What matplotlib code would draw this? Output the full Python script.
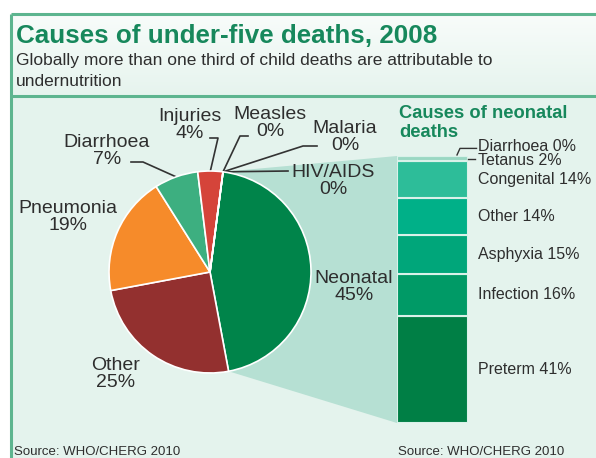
import numpy as np
import matplotlib.pyplot as plt
from matplotlib.patches import Polygon, Rectangle
from matplotlib.colors import LinearSegmentedColormap
from matplotlib.transforms import blended_transform_factory

plt.rcParams['font.family'] = ['Liberation Sans', 'DejaVu Sans']

# under-five deaths by cause (%)
causes = ['Neonatal', 'Other', 'Pneumonia', 'Diarrhoea', 'Injuries', 'Measles', 'Malaria', 'HIV/AIDS']
shares = [45, 25, 19, 7, 4, 0, 0, 0]
cause_colors = ['#00844a', '#93302f', '#f68b2a', '#3daf80', '#d5443a', '#ffffff', '#ffffff', '#ffffff']

# neonatal deaths by cause (%), stacked from the bottom
neo_causes = ['Preterm', 'Infection', 'Asphyxia', 'Other', 'Congenital', 'Tetanus', 'Diarrhoea']
neo_shares = [41, 16, 15, 14, 14, 2, 0]
neo_colors = ['#007f45', '#009a66', '#00a67a', '#00b088', '#2dbd99', '#9ad7c3', '#9ad7c3']

# layout in pixels
W, H = 596, 458
CX, CY, R = 210, 272, 101
START = 82.6
BX0, BX1, BY0, BY1 = 397, 468, 156, 423
TXT = '#2e2e2e'
GREEN = '#17885c'

# label centre and leader elbow for the pie labels
label_pos = {
    'Neonatal': (354, 287, None),
    'Other': (116, 374, None),
    'Pneumonia': (68, 217, None),
    'Diarrhoea': (107, 151, [(131, 162), (143, 162)]),
    'Injuries': (190, 125, [(210, 138), (218, 138)]),
    'Measles': (270, 123, [(248, 136), (240, 136)]),
    'Malaria': (345, 137, [(317, 146), (303, 146)]),
    'HIV/AIDS': (333, 181, [(288, 171)]),
}


def box(x0, y0, x1, y1):
    return [x0 / W, 1 - y1 / H, (x1 - x0) / W, (y1 - y0) / H]


def edge_point(a):
    a = np.radians(a)
    return CX + R * np.cos(a), CY - R * np.sin(a)


fig = plt.figure(figsize=(W / 100, H / 100), dpi=100)
bg = fig.add_axes([0, 0, 1, 1])
bg.set_xlim(0, W)
bg.set_ylim(H, 0)
bg.axis('off')

# panel background and frame
bg.add_patch(Rectangle((11, 96), W - 11, H - 96, color='#e4f3ed', lw=0))
grad = np.linspace(0, 1, 64)[:, None]
bg.imshow(grad, cmap=LinearSegmentedColormap.from_list('h', ['#f8fcfa', '#e6f4ee']),
          extent=(11, W, 96, 14), origin='upper', aspect='auto')
for xs, ys in [([11, 11], [14, H]), ([11, W], [14, 14]), ([11, W], [96, 96])]:
    bg.plot(xs, ys, color='#5db58f', lw=2.2, solid_capstyle='butt')

bg.text(16, 43, 'Causes of under-five deaths, 2008', fontsize=18.7, fontweight='bold',
        color=GREEN, va='baseline')
bg.text(16, 65, 'Globally more than one third of child deaths are attributable to',
        fontsize=12.5, color=TXT, va='baseline')
bg.text(16, 86, 'undernutrition', fontsize=12.5, color=TXT, va='baseline')

# zoom band from the neonatal slice to the bar
cum = np.concatenate([[0], np.cumsum(shares)])
p0 = edge_point(START)
p1 = edge_point(START - 3.6 * shares[0])
bg.add_patch(Polygon([(CX, CY), p0, (BX0, BY0), (BX0, BY1), p1], closed=True,
                     color='#b6e0d3', lw=0))

# pie
pax = fig.add_axes(box(CX - R, CY - R, CX + R, CY + R))
pax.pie(shares, colors=cause_colors, startangle=START, counterclock=False,
        wedgeprops=dict(edgecolor='white', linewidth=1.2))
pax.set_xlim(-1, 1)
pax.set_ylim(-1, 1)
pax.axis('off')

for i, (name, val) in enumerate(zip(causes, shares)):
    x, y, elbow = label_pos[name]
    bg.text(x, y, f'{name}\n{val}%', fontsize=14, color=TXT, ha='center', va='center',
            linespacing=0.98, zorder=5)
    if elbow:
        mid = START - 3.6 * (cum[i] + val / 2)
        pts = elbow + [edge_point(mid)]
        bg.plot([p[0] for p in pts], [p[1] for p in pts], color='#333333', lw=1.2, zorder=5)

# stacked bar of neonatal causes
bax = fig.add_axes(box(BX0, BY0, BX1, BY1))
bottoms = np.concatenate([[0], np.cumsum(neo_shares)[:-1]])
bax.bar(0, neo_shares, bottom=bottoms, width=1, color=neo_colors, edgecolor='#d9f1e9', linewidth=1.5)
bax.set_xlim(-0.5, 0.5)
top = sum(neo_shares)
bax.set_ylim(0, top)
bax.axis('off')

tr = blended_transform_factory(bax.transAxes, bax.transData)
for name, val, b in zip(neo_causes, neo_shares, bottoms):
    if val > 0:
        y = b + val / 2
        if val < 5:
            bax.plot([1.0, 1.1], [y, y], transform=tr, color='#333333', lw=1, clip_on=False)
            y -= 0.9
        bax.text(1.14, y, f'{name} {val}%', transform=tr, fontsize=11.5, color=TXT,
                 va='center', clip_on=False)
    else:
        bax.text(1.14, top + 3.6, f'{name} {val}%', transform=tr, fontsize=11.5, color=TXT,
                 va='center', clip_on=False)
        bax.plot([0.845, 0.887, 1.12], [top + 0.4, top + 2.9, top + 2.9], transform=tr,
                 color='#333333', lw=1, clip_on=False)

bg.text(399, 118, 'Causes of neonatal', fontsize=13.2, fontweight='bold', color=GREEN,
        va='baseline')
bg.text(399, 137, 'deaths', fontsize=13.2, fontweight='bold', color=GREEN, va='baseline')

bg.text(14, 455, 'Source: WHO/CHERG 2010', fontsize=9.5, color=TXT, va='baseline')
bg.text(398, 455, 'Source: WHO/CHERG 2010', fontsize=9.5, color=TXT, va='baseline')

fig.savefig('out.png', dpi=100)
